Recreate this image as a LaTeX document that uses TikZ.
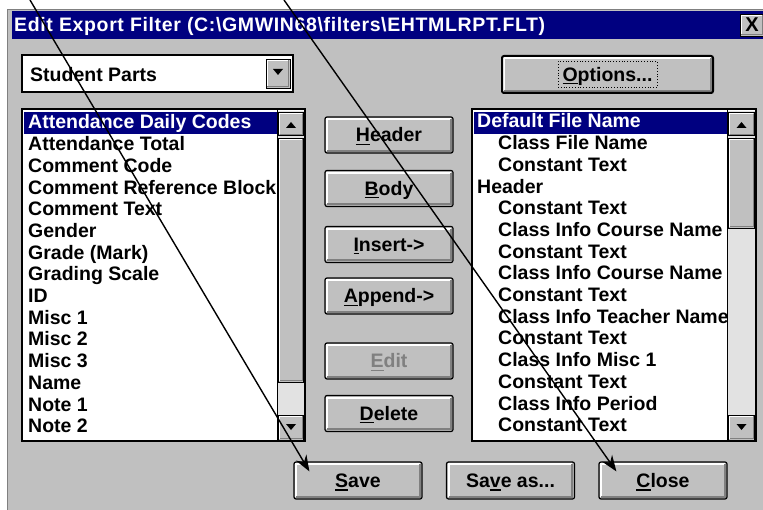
\documentclass[tikz,border=0pt]{standalone}
\usepackage{fontspec}
\setmainfont{Liberation Sans}
\newfontfamily\titlefam{Liberation Sans}[LetterSpace=3.3]
\usetikzlibrary{arrows.meta}
\definecolor{face}{RGB}{192,192,192}
\definecolor{navy}{RGB}{0,0,128}
\definecolor{dkgray}{RGB}{128,128,128}
\definecolor{hatch}{RGB}{226,226,226}
\newcommand\uifont{\fontsize{19.5}{22}\selectfont\bfseries}
\newcommand\titlefont{\titlefam\fontsize{19.5}{20}\selectfont\bfseries}
\newsavebox\hotbox
\newcommand\hotkey[1]{\sbox\hotbox{#1}\rlap{\rule[-3pt]{\wd\hotbox}{1.3pt}}\usebox\hotbox}
\tikzset{raised/.style={path picture={
	\draw[draw=white, fill=none, line width=#1, sharp corners] ([xshift=#1,yshift=#1]path picture bounding box.south west) |- ([xshift=-#1,yshift=-#1]path picture bounding box.north east);
	\draw[draw=dkgray, fill=none, line width=#1, sharp corners] ([xshift=#1,yshift=#1]path picture bounding box.south west) -| ([xshift=-#1,yshift=-#1]path picture bounding box.north east);
}}}
\tikzstyle{button} = [draw=black, line width=1.2pt, rounded corners=2pt, fill=face, raised=2.2pt, minimum width=128pt, minimum height=36pt, inner sep=0pt, text height=14pt, text depth=0pt, font=\uifont]
\tikzstyle{sbtn} = [draw=black, line width=0.8pt, fill=face, raised=1.3pt, inner sep=0pt, minimum width=25pt]
\tikzstyle{well} = [draw=black, line width=1.6pt, fill=white, inner sep=0pt]
\tikzstyle{item} = [anchor=base west, inner sep=0pt, font=\uifont]
\tikzstyle{pointer} = [-{Stealth[length=16pt,width=12pt]}, line width=1.4pt]
\begin{document}
\begin{tikzpicture}[x=1pt, y=-1pt]
	\useasboundingbox (0,0) rectangle (763,510);
	\clip (0,0) rectangle (763,510);
	\fill[white] (0,0) rectangle (763,510);
	\fill[face] (8,9) rectangle (763,510);
	\draw[dkgray] (7.5,510) -- (7.5,9.5) -- (763,9.5);
	\fill[navy] (12,11) rectangle (763,39);
	\node (ttl) [item, text=white, font=\titlefont] at (14,32) {Edit Export Filter (C:\textbackslash GMWIN68\textbackslash filters\textbackslash EHTMLRPT.FLT)};
	\node (xbx) [sbtn, minimum width=24pt, minimum height=22pt, font=\fontsize{20}{20}\selectfont\bfseries] at (752,25) {X};

	\node (cmb) [well, minimum width=271pt, minimum height=37pt] at (157.5,73.5) {};
	\node (stu) [item] at (30,82) {Student Parts};
	\node (drp) [sbtn, minimum width=24pt, minimum height=29pt] at (278,73.5) {};
	\fill (273,69) -- (283,69) -- (278,75) -- cycle;

	\node (lst) [well, minimum width=283pt, minimum height=332pt] at (163.5,275) {};
	\node (rst) [well, minimum width=284pt, minimum height=332pt] at (614,275) {};
	\fill[hatch] (278,111) rectangle (304,440);
	\fill[hatch] (728,111) rectangle (755,440);
	\draw (277.5,110) -- (277.5,441);
	\draw (727.5,110) -- (727.5,441);
	\node (lup) [sbtn, minimum height=23pt] at (291,124) {};
	\node (lth) [sbtn, minimum height=244pt] at (291,260) {};
	\node (ldn) [sbtn, minimum height=25pt] at (291,427.5) {};
	\node (rup) [sbtn, minimum width=26pt, minimum height=23pt] at (741.5,124) {};
	\node (rth) [sbtn, minimum width=26pt, minimum height=90pt] at (741.5,183) {};
	\node (rdn) [sbtn, minimum width=26pt, minimum height=25pt] at (741.5,427.5) {};
	\fill (286,128) -- (296,128) -- (291,122) -- cycle;
	\fill (286,424) -- (296,424) -- (291,430) -- cycle;
	\fill (736.5,128) -- (746.5,128) -- (741.5,122) -- cycle;
	\fill (736.5,424) -- (746.5,424) -- (741.5,430) -- cycle;

	\begin{scope}
		\clip (24,111) rectangle (277,440);
		\fill[navy] (24,112) rectangle (277,134);
		\foreach \txt [count=\i from 0] in {Attendance Daily Codes, Attendance Total, Comment Code, Comment Reference Block, Comment Text, Gender, Grade (Mark), Grading Scale, ID, Misc 1, Misc 2, Misc 3, Name, Note 1, Note 2} {
			\ifnum\i=0 \def\ink{white}\else\def\ink{black}\fi
			\node (lit\i) [item, text=\ink] at (28,{129+21.7*\i}) {\txt};
		}
	\end{scope}
	\begin{scope}
		\clip (474,111) rectangle (727,440);
		\fill[navy] (474,112) rectangle (727,134);
		\foreach \txt/\ind [count=\i from 0] in {Default File Name/0, Class File Name/1, Constant Text/1, Header/0, Constant Text/1, Class Info Course Name/1, Constant Text/1, Class Info Course Name/1, Constant Text/1, Class Info Teacher Name/1, Constant Text/1, Class Info Misc 1/1, Constant Text/1, Class Info Period/1, Constant Text/1} {
			\ifnum\i=0 \def\ink{white}\else\def\ink{black}\fi
			\node (rit\i) [item, text=\ink] at ({477+21*\ind},{128+21.7*\i}) {\txt};
		}
	\end{scope}

	\node (hdr) [button] at (389,135) {\hotkey{H}eader};
	\node (bdy) [button] at (389,188.5) {\hotkey{B}ody};
	\node (ins) [button] at (389,244.5) {\hotkey{I}nsert->};
	\node (app) [button] at (389,296) {\hotkey{A}ppend->};
	\node (edt) [button, text=dkgray] at (389,361) {\hotkey{E}dit};
	\node (del) [button] at (389,413.5) {\hotkey{D}elete};
	\node (opt) [button, line width=2pt, minimum width=211pt, minimum height=37pt] at (607.5,74.5) {\hotkey{O}ptions...};
	\node (foc) [draw=black, dotted, line width=0.8pt, minimum width=99pt, minimum height=26pt] at (opt.center) {};
	\node (sav) [button, minimum height=37pt] at (358,480.5) {\hotkey{S}ave};
	\node (sva) [button, minimum height=37pt] at (510.5,480.5) {Sa\hotkey{v}e as...};
	\node (cls) [button, minimum height=37pt] at (663,480.5) {\hotkey{C}lose};

	\coordinate (tp1) at (30,0);
	\coordinate (tp2) at (284,0);
	\draw [pointer] (tp1) -- ([xshift=16pt,yshift=-10pt]sav.north west);
	\draw [pointer] (tp2) -- ([xshift=18pt,yshift=-10pt]cls.north west);
\end{tikzpicture}
\end{document}
